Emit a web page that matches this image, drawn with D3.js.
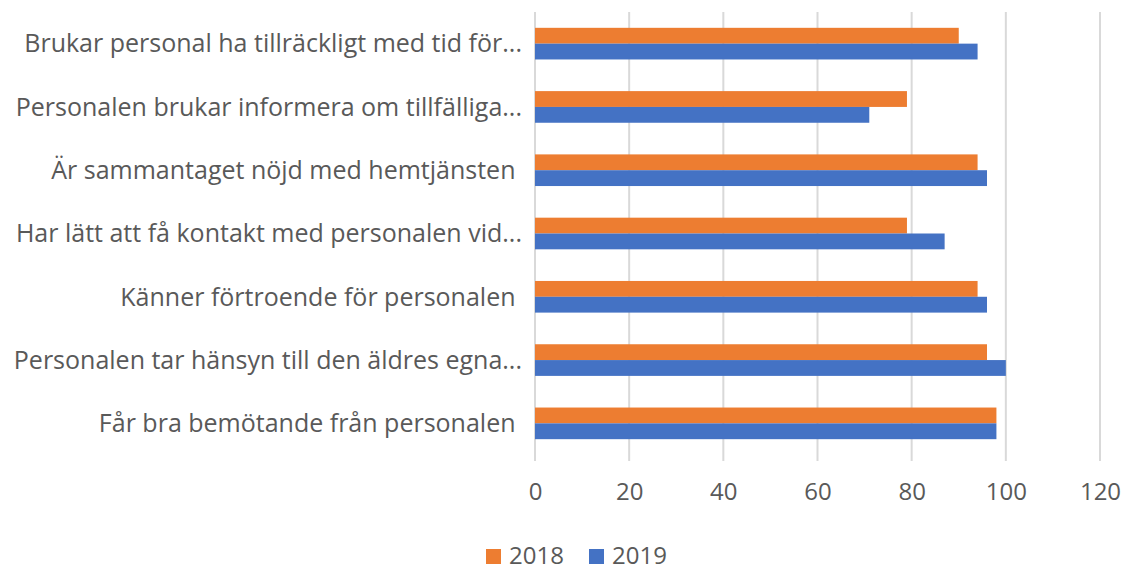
<!DOCTYPE html>
<html lang="sv">
<head>
	<meta charset="utf-8">
	<title>Hemtjänst 2018-2019</title>
	<script src="https://d3js.org/d3.v7.min.js"></script>
	<style>
		body { margin: 0; background: #fff; }
		text { font-family: "Open Sans", sans-serif; fill: #595959; }
	</style>
</head>
<body>
	<div id="chart"></div>
	<script>
		// categories, top to bottom
		let categories = [
			"Brukar personal ha tillräckligt med tid för...",
			"Personalen brukar informera om tillfälliga...",
			"Är sammantaget nöjd med hemtjänsten ",
			"Har lätt att få kontakt med personalen vid...",
			"Känner förtroende för personalen ",
			"Personalen tar hänsyn till den äldres egna...",
			"Får bra bemötande från personalen "
		];
		let series = ["2018", "2019"];
		let values2018 = [90, 79, 94, 79, 94, 96, 98];
		let values2019 = [94, 71, 96, 87, 96, 100, 98];
		let xTicks = [0, 20, 40, 60, 80, 100, 120];
		let colors = ["#ED7D31", "#4472C4"];

		let width = 1125;
		let height = 570;
		let plotLeft = 535, plotRight = 1100, plotTop = 12, plotBottom = 455;

		let data = categories.map(function(c, i) {
			return { cat: c, v: [values2018[i], values2019[i]] };
		});

		let svg = d3.select("#chart")
			.append("svg")
			.attr("width", width)
			.attr("height", height);

		// X scale
		let x = d3.scaleLinear()
			.domain([0, 120])
			.range([plotLeft, plotRight]);
		// Y band for categories
		let y = d3.scaleBand()
			.domain(categories)
			.range([plotTop, plotBottom])
			.paddingInner(0.5)
			.paddingOuter(0.25);
		let ySub = d3.scaleBand()
			.domain(series)
			.range([0, y.bandwidth()]);

		// gridlines
		svg.append("g")
			.selectAll("line")
			.data(xTicks)
			.enter()
			.append("line")
			.attr("x1", d => x(d))
			.attr("x2", d => x(d))
			.attr("y1", plotTop)
			.attr("y2", plotBottom + 6)
			.attr("stroke", "#D9D9D9")
			.attr("stroke-width", 2);

		// bottom axis labels
		let xAxis = svg.append("g")
			.attr("transform", "translate(0," + plotBottom + ")")
			.call(d3.axisBottom(x).tickValues(xTicks).tickSize(0).tickPadding(28));
		xAxis.select(".domain").remove();
		xAxis.selectAll("text")
			.style("font-family", "'Open Sans', sans-serif")
			.style("font-size", "24px")
			.attr("fill", "#595959");

		// bars
		let groups = svg.selectAll("g.row")
			.data(data)
			.enter()
			.append("g")
			.attr("class", "row")
			.attr("transform", d => "translate(0," + y(d.cat) + ")");
		groups.selectAll("rect")
			.data(d => d.v.map((v, i) => ({ s: series[i], v: v, i: i })))
			.enter()
			.append("rect")
			.attr("x", x(0))
			.attr("y", d => ySub(d.s))
			.attr("width", d => x(d.v) - x(0))
			.attr("height", ySub.bandwidth())
			.attr("fill", d => colors[d.i]);

		// category labels
		svg.append("g")
			.selectAll("text")
			.data(categories)
			.enter()
			.append("text")
			.attr("x", 522)
			.attr("y", d => y(d) + y.bandwidth() / 2)
			.attr("dy", "0.35em")
			.attr("text-anchor", "end")
			.style("white-space", "pre")
			.style("font-size", "25px")
			.text(d => d);

		// legend
		let legend = svg.append("g")
			.selectAll("g")
			.data(series)
			.enter()
			.append("g")
			.attr("transform", (d, i) => "translate(" + (486 + i * 103) + ",549)");
		legend.append("rect")
			.attr("width", 15)
			.attr("height", 15)
			.attr("fill", (d, i) => colors[i]);
		legend.append("text")
			.attr("x", 23)
			.attr("y", 15)
			.style("font-size", "24px")
			.text(d => d);
	</script>
</body>
</html>
